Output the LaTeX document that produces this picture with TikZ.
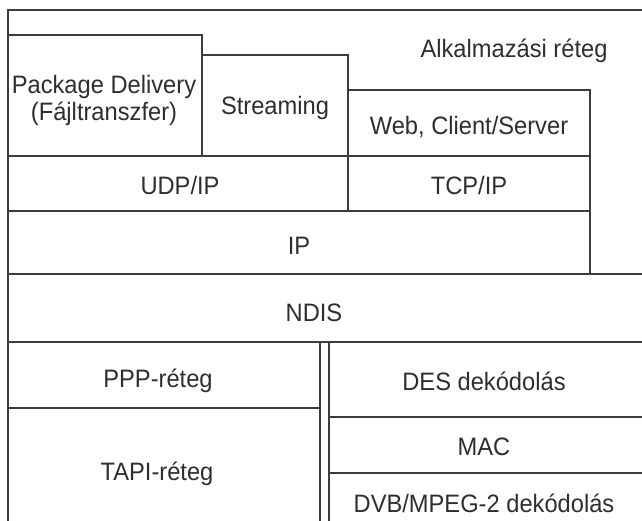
\documentclass[tikz,border=0pt]{standalone}
\usepackage{fontspec}
\setmainfont[FakeStretch=0.94]{Liberation Sans}
\definecolor{linegray}{HTML}{3C3C3C}
\definecolor{textgray}{HTML}{2E2E2E}
\begin{document}
\begin{tikzpicture}[x=0.5pt,y=-0.5pt,
  rule/.style={draw=linegray,line width=0.9pt},
  lbl/.style={anchor=base,text=textgray,inner sep=0pt,
    font=\fontsize{12.6}{15}\selectfont}]
\useasboundingbox (0,0) rectangle (642,520);

% application layer frame, open to the right
\draw[rule] (8,540) -- (8,10) -- (660,10);
% Package Delivery box
\draw[rule] (8,35) -- (202,35) -- (202,156);
% Streaming box (its right edge continues as the UDP/TCP divider)
\draw[rule] (202,55) -- (348,55) -- (348,211);
% Web, Client/Server box (its right edge continues down to the IP row)
\draw[rule] (348,90) -- (590,90) -- (590,274);
% transport and network rows
\draw[rule] (8,156) -- (590,156);
\draw[rule] (8,211) -- (590,211);
\draw[rule] (8,274) -- (660,274);
% NDIS row
\draw[rule] (8,342) -- (660,342);
% double separator between the two lower stacks
\draw[rule] (320,342) -- (320,540);
\draw[rule] (329,342) -- (329,540);
% left stack
\draw[rule] (8,408) -- (320,408);
% right stack
\draw[rule] (329,417) -- (660,417);
\draw[rule] (329,473) -- (660,473);

% labels
\node[lbl] (app)   at (514,57)  {Alkalmazási réteg};
\node[lbl] (pkga)  at (104,93)  {Package Delivery};
\node[lbl] (pkgb)  at (104,120) {(Fájltranszfer)};
\node[lbl] (strm)  at (275,114) {Streaming};
\node[lbl] (web)   at (469,134) {Web, Client/Server};
\node[lbl] (udp)   at (180,194) {UDP/IP};
\node[lbl] (tcp)   at (469,194) {TCP/IP};
\node[lbl] (ip)    at (299,254) {IP};
\node[lbl] (ndis)  at (314,321) {NDIS};
\node[lbl] (ppp)   at (158,387) {PPP-réteg};
\node[lbl] (des)   at (484,390) {DES dekódolás};
\node[lbl] (mac)   at (484,455) {MAC};
\node[lbl] (tapi)  at (157,480) {TAPI-réteg};
\node[lbl] (dvb)   at (484,512) {DVB/MPEG-2 dekódolás};
\end{tikzpicture}
\end{document}
